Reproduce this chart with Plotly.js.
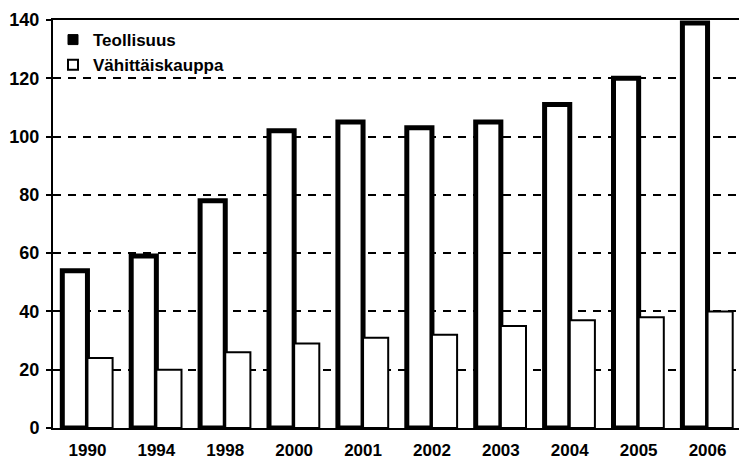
<!DOCTYPE html>
<html>
<head>
<meta charset="utf-8">
<script src="https://cdn.plot.ly/plotly-3.0.1.min.js"></script>
<style>html,body{margin:0;padding:0;background:#fff;overflow:hidden;}#chart{width:742px;height:463px;}</style>
</head>
<body>
<div id="chart"></div>
<script>
const years = ["1990","1994","1998","2000","2001","2002","2003","2004","2005","2006"];
const teollisuus = [54, 59, 78, 102, 105, 103, 105, 111, 120, 139];
const vahittaiskauppa = [24, 20, 26, 29, 31, 32, 35, 37, 38, 40];
const yTicks = [0, 20, 40, 60, 80, 100, 120, 140];
const seriesNames = ["Teollisuus", "Vähittäiskauppa"];

const traces = [
  {type: "bar", name: seriesNames[0], x: years, y: teollisuus, showlegend: false,
   marker: {color: "#ffffff", line: {color: "#000000", width: 5}}},
  {type: "bar", name: seriesNames[1], x: years, y: vahittaiskauppa, showlegend: false,
   marker: {color: "#ffffff", line: {color: "#000000", width: 2}}},
  // legend keys only (no data drawn)
  {type: "scatter", mode: "markers", name: seriesNames[0], x: [null], y: [null],
   marker: {symbol: "square", size: 10, color: "#000000", line: {color: "#000000", width: 1}}},
  {type: "scatter", mode: "markers", name: seriesNames[1], x: [null], y: [null],
   marker: {symbol: "square", size: 10, color: "#ffffff", line: {color: "#000000", width: 2}}}
];

const layout = {
  width: 742, height: 463,
  margin: {l: 53, r: 0, t: 20, b: 35},
  paper_bgcolor: "#ffffff", plot_bgcolor: "#ffffff",
  barmode: "group", bargap: 0.27, bargroupgap: 0,
  font: {family: "Liberation Sans, Arial, sans-serif", color: "#000000", size: 14},
  showlegend: true,
  legend: {x: 0.0, y: 0.995, xanchor: "left", yanchor: "top", bgcolor: "rgba(0,0,0,0)",
           font: {size: 17, color: "#000000", weight: "bold"}, itemwidth: 30},
  xaxis: {type: "category", showline: true, linecolor: "#000000", linewidth: 2, mirror: true,
          ticks: "", ticklabelstandoff: 6, tickfont: {size: 17, weight: "bold"},
          showgrid: false, fixedrange: true},
  yaxis: {range: [0, 140], tickvals: yTicks, showline: true, linecolor: "#000000", linewidth: 2,
          ticks: "outside", ticklen: 5, tickwidth: 2, tickcolor: "#000000", ticklabelstandoff: 3,
          showgrid: true, gridcolor: "#000000", gridwidth: 2, griddash: "8px,7px",
          zeroline: false, tickfont: {size: 18, weight: "bold"}, fixedrange: true}
};

Plotly.newPlot("chart", traces, layout, {displayModeBar: false, staticPlot: true});
</script>
</body>
</html>
